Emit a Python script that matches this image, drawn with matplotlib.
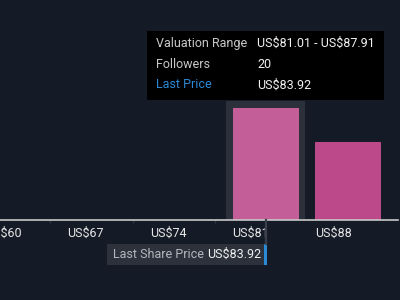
import matplotlib

matplotlib.use("Agg")
import matplotlib.pyplot as plt
from matplotlib.patches import Rectangle

plt.rcParams["font.family"] = ["Roboto", "DejaVu Sans"]

# data
bin_centers = [82.3, 89.3]
followers = [20, 14]
tick_values = [60, 67, 74, 81, 88]
tick_labels = ["US\\$60", "US\\$67", "US\\$74", "US\\$81", "US\\$88"]
minor_ticks = [64, 71, 78]
highlight_bin = (78.96, 85.62)
tip_labels = ["Valuation Range", "Followers", "Last Price"]
tip_values = ["US\\$81.01 - US\\$87.91", "20", "US\\$83.92"]
last_price_text = "US\\$83.92"

BG = "#151b26"
BAR_COLORS = ["#c45e98", "#bc4a8a"]
HILITE = "#2b303b"
BLUE = "#2a8ad6"
W, H = 400, 300

fig = plt.figure(figsize=(4, 3), dpi=100, facecolor=BG)
# axes runs from the baseline (y=219.5px) up to the top
ax = fig.add_axes([0, 80.5 / H, 1, 219.5 / H])
ax.set_facecolor(BG)
ax.set_xlim(59.75, 93.68)
ax.set_ylim(0, 39.48)

ax.axvspan(*highlight_bin, ymax=0.54, color=HILITE, zorder=1, lw=0)
ax.bar(bin_centers, followers, width=5.6, color=BAR_COLORS, zorder=2)

for s in ("top", "left", "right"):
    ax.spines[s].set_visible(False)
ax.spines["bottom"].set_color("#c8c8c8")
ax.spines["bottom"].set_linewidth(1.2)
ax.spines["bottom"].set_bounds(59.75, 93.5)
ax.set_yticks([])
ax.set_xticks(tick_values, tick_labels)
ax.set_xticks(minor_ticks, minor=True)
ax.tick_params(axis="x", which="major", length=0, pad=5.5,
               labelsize=9, labelcolor="#e6e6e6")
ax.tick_params(axis="x", which="minor", length=2.5, width=1, color="#2e3542")


def fx(px):
    return px / W


def fy(py):
    return 1 - py / H


# last price marker under the highlighted bin
mx = ax.transData.transform((bin_centers[0], 0))[0]
fig.add_artist(plt.Line2D([fx(mx)] * 2, [fy(220), fy(244)], color="#3a404b",
                          lw=1.6, transform=fig.transFigure))
fig.add_artist(Rectangle((fx(107), fy(265)), fx(mx - 2 - 107), 21 / H,
                         facecolor="#2c313b", edgecolor="none",
                         transform=fig.transFigure))
fig.add_artist(Rectangle((fx(mx - 1.6), fy(265)), fx(3), 21 / H,
                         facecolor=BLUE, edgecolor="none",
                         transform=fig.transFigure))
fig.text(fx(113), fy(254.5), "Last Share Price", color="#b4b8be",
         fontsize=9, ha="left", va="center")
fig.text(fx(mx - 5), fy(254.5), last_price_text, color="#f0f0f0",
         fontsize=9, ha="right", va="center")

# tooltip
fig.add_artist(Rectangle((fx(147), fy(100)), fx(237), 69 / H,
                         facecolor="#000000", edgecolor="none",
                         transform=fig.transFigure))
for i, (lab, val) in enumerate(zip(tip_labels, tip_values)):
    y = fy(43 + 21 * i)
    fig.text(fx(156), y, lab, color=BLUE if lab == "Last Price" else "#c8c8c8",
             fontsize=9, ha="left", va="center")
    fig.text(fx(257), y, val, color="#f2f2f2", fontsize=9,
             ha="left", va="center")

fig.savefig("out.png", facecolor=BG)
